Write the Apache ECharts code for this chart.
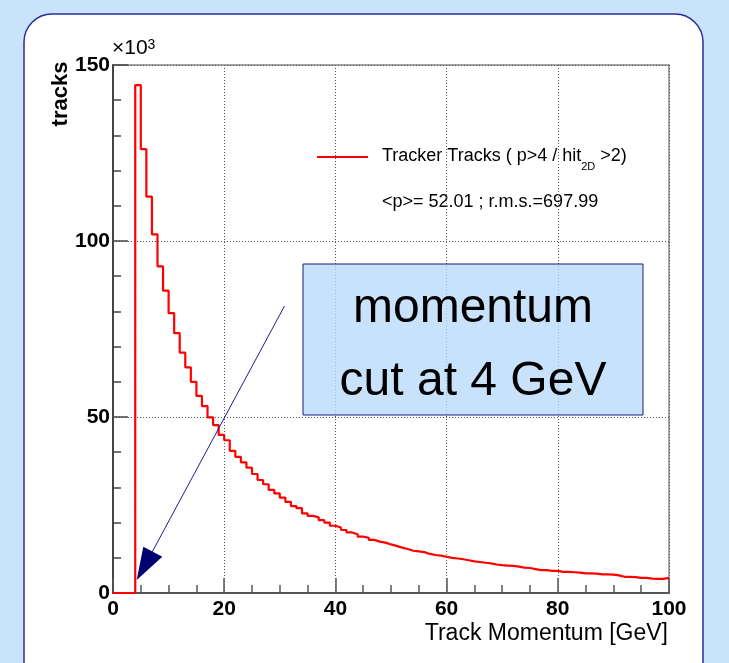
<!DOCTYPE html>
<html>
<head>
<meta charset="utf-8">
<script src="https://cdn.jsdelivr.net/npm/echarts@6/dist/echarts.min.js"></script>
<style>
  html, body { margin: 0; padding: 0; background: #c9e3fa; }
  #chart { width: 729px; height: 663px; }
</style>
</head>
<body>
<div id="chart"></div>
<script>
// histogram: 1 GeV bins from 0 to 100, counts in units of 10^3
var binStart = 0;
var binWidth = 1;
var counts = [
  0, 0, 0, 0, 144.3, 126.1, 112.6, 101.9, 92.8, 85.9,
  79.5, 73.8, 68.3, 64.1, 60.0, 56.0, 53.1, 49.9, 47.7, 44.9,
  43.4, 40.4, 38.7, 37.1, 35.6, 33.8, 32.1, 30.9, 29.3, 28.3,
  27.1, 25.9, 24.7, 24.1, 22.6, 21.9, 21.5, 20.7, 20.0, 19.1,
  18.6, 17.9, 17.2, 16.7, 16.0, 15.7, 15.1, 14.6, 14.3, 13.8,
  13.4, 12.9, 12.5, 12.0, 11.8, 11.6, 11.1, 10.8, 10.6, 10.3,
  10.0, 9.8, 9.6, 9.3, 9.0, 8.8, 8.6, 8.4, 8.1, 7.9,
  7.8, 7.7, 7.5, 7.2, 7.1, 6.8, 6.5, 6.5, 6.3, 6.3,
  6.0, 6.0, 5.9, 5.8, 5.6, 5.6, 5.5, 5.3, 5.3, 5.2,
  5.0, 4.6, 4.6, 4.5, 4.3, 4.3, 4.1, 4.0, 4.0, 4.3
];
var xRange = [0, 100];
var yRange = [0, 150];
var seriesName = 'Tracker Tracks ( p>4 / hit2D >2)';
var statsText = '<p>= 52.01 ; r.m.s.=697.99';

var FONT = 'Liberation Sans, Arial, Helvetica, sans-serif';

// step points: each bin value held until the next edge
var histData = counts.map(function (v, i) { return [binStart + i * binWidth, v]; });
histData.push([binStart + counts.length * binWidth, counts[counts.length - 1]]);

var chart = echarts.init(document.getElementById('chart'));

var option = {
  backgroundColor: '#c9e3fa',
  animation: false,
  grid: {
    left: 113, right: 60, top: 65, bottom: 70,
    show: true, borderColor: '#888', borderWidth: 1.5
  },
  xAxis: {
    type: 'value',
    min: xRange[0], max: xRange[1], interval: 20,
    axisLine: { onZero: false, lineStyle: { color: '#555', width: 2 } },
    axisTick: { inside: true, length: 15, lineStyle: { color: '#555', width: 1.5 } },
    minorTick: { show: true, splitNumber: 4, length: 8, lineStyle: { color: '#555', width: 1.5 } },
    splitLine: { show: true, lineStyle: { color: '#555', type: [1, 2], width: 1 } },
    axisLabel: { fontFamily: FONT, fontSize: 21, fontWeight: 'bold', color: '#000', margin: 6 }
  },
  yAxis: {
    type: 'value',
    min: yRange[0], max: yRange[1], interval: 50,
    axisLine: { show: true, onZero: false, lineStyle: { color: '#444', width: 2 } },
    axisTick: { inside: true, length: 15, lineStyle: { color: '#444', width: 1.5 } },
    minorTick: { show: true, splitNumber: 5, length: 8, lineStyle: { color: '#444', width: 1.5 } },
    splitLine: { show: true, lineStyle: { color: '#555', type: [1, 2], width: 1 } },
    axisLabel: { fontFamily: FONT, fontSize: 21, fontWeight: 'bold', color: '#000', margin: 3 }
  },
  series: [{
    name: seriesName,
    type: 'line',
    step: 'end',
    data: histData,
    symbol: 'none',
    lineStyle: { color: '#ff0000', width: 2.2 },
    z: 3
  }],
  graphic: [
    // white rounded panel
    {
      type: 'rect', z: -10, silent: true,
      shape: { x: 24, y: 14, width: 679, height: 700, r: 28 },
      style: { fill: '#ffffff', stroke: '#2c2c9c', lineWidth: 1.5 }
    },
    // y title
    {
      type: 'text', x: 61, y: 94, rotation: Math.PI / 2,
      style: { text: 'tracks', font: 'bold 22px ' + FONT, fill: '#000', align: 'center', verticalAlign: 'middle' }
    },
    // exponent
    {
      type: 'text', x: 112, y: 38,
      style: {
        text: '×10{sup|3}', fill: '#000', align: 'left', verticalAlign: 'top',
        font: '21px ' + FONT,
        rich: { sup: { fontFamily: FONT, fontSize: 14, verticalAlign: 'top', lineHeight: 14, padding: [0, 0, 8, 0] } }
      }
    },
    // x title
    {
      type: 'text', x: 668, y: 634,
      style: { text: 'Track Momentum [GeV]', font: '23px ' + FONT, fill: '#000', align: 'right', verticalAlign: 'middle' }
    },
    // legend
    {
      type: 'line', shape: { x1: 317, y1: 157, x2: 368, y2: 157 },
      style: { stroke: '#ff0000', lineWidth: 2 }
    },
    {
      type: 'text', x: 382, y: 147,
      style: {
        text: '{a|Tracker Tracks ( p>4 / hit}{s|2D}{a| >2)}', align: 'left', verticalAlign: 'top',
        rich: {
          a: { fontFamily: FONT, fontSize: 18, lineHeight: 19, verticalAlign: 'top', color: '#000' },
          s: { fontFamily: FONT, fontSize: 11, lineHeight: 12, verticalAlign: 'top', padding: [14, 0, 0, 0], color: '#000' }
        }
      }
    },
    {
      type: 'text', x: 382, y: 202,
      style: { text: statsText, font: '18px ' + FONT, fill: '#000', align: 'left', verticalAlign: 'middle' }
    },
    // annotation box
    {
      type: 'rect', z: 5,
      shape: { x: 303, y: 264, width: 340, height: 151 },
      style: { fill: 'rgba(186,218,250,0.78)', stroke: '#1a1a80', lineWidth: 1 }
    },
    {
      type: 'text', z: 6, x: 473, y: 309,
      style: { text: 'momentum', font: '48px ' + FONT, fill: '#000', align: 'center', verticalAlign: 'middle' }
    },
    {
      type: 'text', z: 6, x: 473, y: 382,
      style: { text: 'cut at 4 GeV', font: '48px ' + FONT, fill: '#000', align: 'center', verticalAlign: 'middle' }
    },
    // arrow
    {
      type: 'line', z: 10, shape: { x1: 284.5, y1: 306, x2: 150, y2: 556 },
      style: { stroke: '#1c1c90', lineWidth: 1 }
    },
    {
      type: 'polygon', z: 10,
      shape: { points: [[136.7, 580], [143.3, 546.7], [162.3, 556.7]] },
      style: { fill: '#000070' }
    }
  ]
};

option && chart.setOption(option);
</script>
</body>
</html>
